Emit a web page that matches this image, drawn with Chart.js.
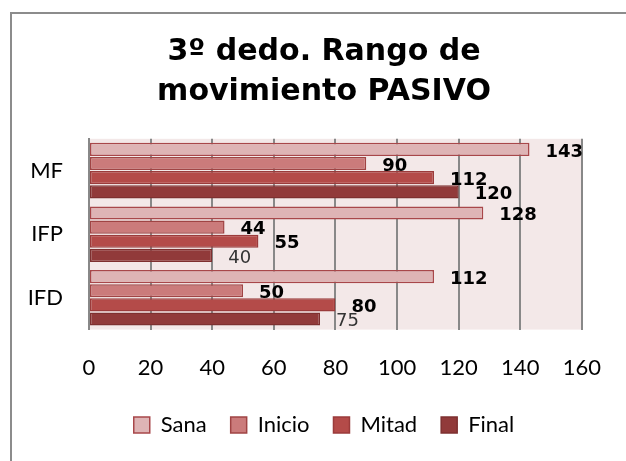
<!DOCTYPE html>
<html><head><meta charset="utf-8">
<script src="https://cdn.jsdelivr.net/npm/chart.js@4"></script>
<style>
html,body{margin:0;padding:0;background:#fff;overflow:hidden;width:626px;height:461px;}
#frame{position:absolute;left:10px;top:12px;width:700px;height:520px;border-left:2px solid #8c8c8c;border-top:2px solid #8c8c8c;}
#wrap{position:absolute;left:0;top:0;width:626px;height:461px;}
</style></head><body>
<div id="frame"></div>
<div id="wrap"><canvas id="c" width="626" height="461"></canvas></div>
<script>
const titleLines = ['3º dedo. Rango de', 'movimiento PASIVO'];
const categories = ['MF', 'IFP', 'IFD'];
const seriesNames = ['Sana', 'Inicio', 'Mitad', 'Final'];
const sana = [143, 128, 112];
const inicio = [90, 44, 50];
const mitad = [112, 55, 80];
const final = [120, 40, 75];
const xMin = 0, xMax = 160, xStep = 20;

const fills = ['#DEB4B5', '#CB7B7B', '#B44B49', '#913A3A'];
const borders = ['#A8474A', '#A04444', '#9B3B3B', '#7E3030'];
const boldFlags = [[true,true,true],[true,true,true],[true,true,true],[true,false,false]];

const plotBg = {
  id: 'plotBg',
  beforeDraw(chart) {
    const a = chart.chartArea, ctx = chart.ctx;
    ctx.save(); ctx.fillStyle = '#F3E8E8';
    ctx.fillRect(a.left, a.top, a.right - a.left, a.bottom - a.top);
    ctx.restore();
  }
};
// The frame of the original chart extends past the right edge, so centre title/legend on that wider frame
const shiftBlocks = {
  id: 'shiftBlocks',
  afterLayout(chart) {
    if (chart.titleBlock) chart.titleBlock.left += 41;
    if (chart.legend) chart.legend.left += 41;
  }
};
const valueLabels = {
  id: 'valueLabels',
  afterDatasetsDraw(chart) {
    const ctx = chart.ctx;
    chart.data.datasets.forEach((ds, i) => {
      const meta = chart.getDatasetMeta(i);
      meta.data.forEach((bar, j) => {
        const bold = boldFlags[i][j];
        ctx.save();
        ctx.font = (bold ? 'bold ' : '') + '18px "DejaVu Sans"';
        ctx.fillStyle = bold ? '#000' : '#333';
        ctx.textAlign = 'left'; ctx.textBaseline = 'middle';
        ctx.fillText(String(ds.data[j]), bar.x + 16, bar.y + 2.5);
        ctx.restore();
      });
    });
  }
};

const seriesData = [sana, inicio, mitad, final];
const axisFont = {family: 'Lato', size: 22};
new Chart(document.getElementById('c'), {
  type: 'bar',
  data: {
    labels: categories,
    datasets: seriesNames.map((n, i) => ({
      label: n, data: seriesData[i],
      backgroundColor: fills[i], borderColor: borders[i], borderWidth: 1.5,
      borderSkipped: false, barPercentage: 0.93, categoryPercentage: 0.89
    }))
  },
  options: {
    responsive: false, animation: false, devicePixelRatio: 1,
    indexAxis: 'y',
    layout: {padding: {left: 22, right: 41, top: 14, bottom: 15}},
    plugins: {
      title: {display: true, text: titleLines, color: '#000',
        font: {family: 'DejaVu Sans', weight: 'bold', size: 30, lineHeight: 1.33},
        padding: {top: 18, bottom: 27}},
      legend: {position: 'bottom', labels: {font: axisFont, color: '#000', boxWidth: 16, boxHeight: 16, padding: 24}},
      tooltip: {enabled: false}
    },
    scales: {
      x: {min: xMin, max: xMax, ticks: {stepSize: xStep, font: axisFont, color: '#000', padding: 25},
        grid: {color: '#888', lineWidth: 2, drawTicks: false}, border: {display: false},
        afterFit(s) { s.height -= 16; }},
      y: {ticks: {font: axisFont, color: '#000', padding: 26},
        grid: {display: false, drawTicks: false}, border: {color: '#888', width: 2},
        afterFit(s) { s.width = 67; }}
    }
  },
  plugins: [plotBg, shiftBlocks, valueLabels]
});
</script></body></html>
